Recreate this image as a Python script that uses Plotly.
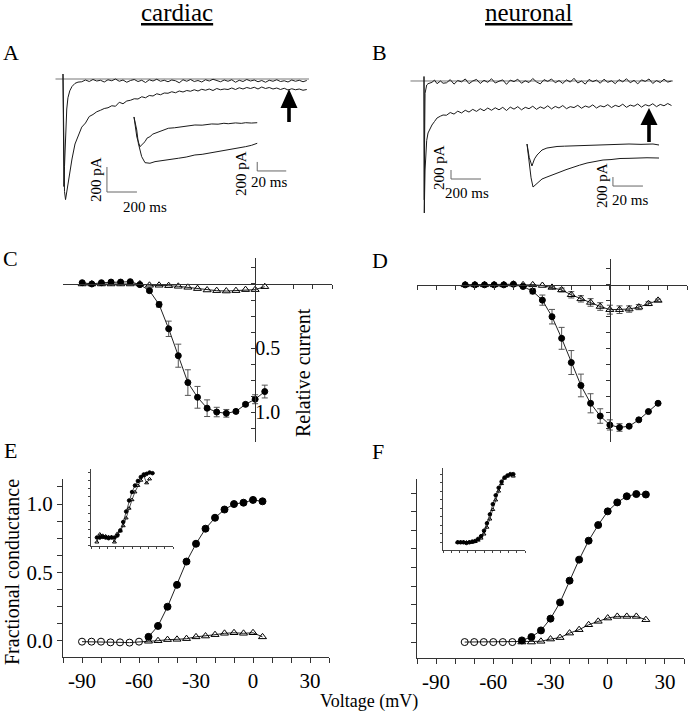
import plotly.graph_objects as go

W, H = 691, 719
FONT = "Liberation Serif, Times New Roman, serif"

# ---------------- data ----------------
# A: cardiac current traces (time in ms, current in pA)
a_t = [0, 1, 3, 6, 10, 17, 25, 33, 45, 60, 80, 100,
       125, 150, 175, 200, 225, 250, 275, 300, 325, 350, 375, 400, 425, 450, 475,
       500, 525, 550, 575, 600, 625, 650, 675, 700, 725, 750, 775, 800, 825, 850,
       875, 900, 925, 950, 975, 1000, 1025, 1050, 1075, 1100, 1125, 1150, 1175,
       1200, 1225, 1250, 1275, 1300, 1325, 1350, 1375, 1400, 1425, 1450, 1475,
       1500, 1525, 1550, 1575, 1600, 1625]
a_fast = [40, -250, -650, -860, -700, -430, -240, -150, -95, -60, -35, -25,
          -22, -8, -20, -4, -16, -10, -24, -6, -14, 0,
          -18, -8, -26, -12, -4, -20, -10, -28, -6, -16,
          -2, -18, -10, -22, -8, -14, -30, -6, -18, -4,
          -20, -12, -24, -6, -16, -2, -14, -22, -8, -18,
          -6, -26, -10, -20, -4, -16, -8, -22, -12, -26,
          -10, -18, -6, -20, -14, -24, -8, -18, -10, -22,
          -12]
a_slow = [40, -150, -500, -850, -900, -965, -905, -840, -740, -640, -520, -452,
          -385, -352, -300, -284, -262, -250, -236, -230, -214, -218,
          -186, -198, -176, -170, -158, -160, -142, -150, -132, -136,
          -118, -126, -112, -114, -102, -110, -96, -104, -92, -98,
          -86, -96, -82, -90, -80, -92, -76, -86, -80, -84,
          -72, -84, -70, -80, -68, -76, -66, -80, -64, -76,
          -68, -80, -72, -84, -74, -88, -78, -86, -80, -90,
          -84]
# A inset (expanded time scale)
a_in_fast_t = [0, 2, 4.1, 6, 7.6, 9, 11, 13, 14.5, 17, 19, 21.5, 23.7, 28, 33,
               37, 42, 47, 53.6, 58, 62, 65, 70, 74, 77, 81, 85]
a_in_fast = [0, -450, -660, -600, -548, -470, -437, -380, -362, -330, -304, -290,
             -251, -240, -215, -200, -178, -182, -155, -160, -140, -150, -132,
             -142, -127, -135, -127]
a_in_slow_t = [0, 1.9, 3, 5.3, 7.6, 11, 14.5, 19, 23.7, 28, 30.6, 36, 42, 47,
               53.6, 58, 62, 65, 70, 74, 77, 81, 85]
a_in_slow = [0, -289, -584, -881, -1015, -1028, -992, -975, -955, -940, -917,
             -890, -844, -830, -793, -780, -750, -733, -700, -690, -659, -630, -584]

# B: neuronal current traces
b_t = [0, 1, 2, 4, 7, 13, 18, 27, 40, 53, 70, 87, 110, 127,
       150, 175, 200, 225, 250, 275, 300, 325, 350, 375, 400, 425, 450, 475,
       500, 525, 550, 575, 600, 625, 650, 675, 700, 725, 750, 775, 800, 825,
       850, 875, 900, 925, 950, 975, 1000, 1025, 1050, 1075, 1100, 1125, 1150,
       1175, 1200, 1225, 1250, 1275, 1300, 1325, 1350, 1375, 1400, 1425, 1450,
       1475, 1500, 1525, 1550, 1575, 1600, 1625, 1650]
b_fast = [100, -1500, -2640, -1300, -273, -130, -89, -60, -38, -30, 20, -60, 0, -50,
          -40, 30, -70, 10, -20, 45, -60, 0, 35, -55,
          15, -30, 50, -45, -5, 25, -75, 20, -15, 40,
          -50, 5, -35, 55, -20, -65, 30, -10, 45, -40,
          10, -55, 25, -25, 60, -45, 0, -70, 35, -15,
          20, -50, 40, -30, 5, -60, 30, -20, 50, -40,
          15, -65, 25, -10, 45, -55, 10, -35, 40, -25,
          0]
b_slow = [100, -1800, -2930, -2500, -1976, -1465, -1320, -1154, -1050, -977, -900,
          -821, -780, -755,
          -760, -700, -735, -670, -710, -650, -690, -630, -675, -615,
          -660, -600, -650, -595, -640, -585, -655, -580, -625, -570,
          -640, -585, -615, -560, -630, -575, -610, -550, -620, -565,
          -600, -545, -615, -570, -590, -540, -605, -555, -585, -530,
          -600, -550, -575, -525, -590, -540, -570, -515, -585, -535,
          -560, -510, -580, -525, -555, -505, -570, -520, -550, -500,
          -545]
b_in_fast_t = [0, 1.5, 3.3, 5, 6.7, 10, 13.3, 17, 20, 25, 29, 35, 42, 51, 60, 68, 76, 84, 88]
b_in_fast = [0, -300, -488, -330, -244, -133, -89, -70, -55, -48, -44, -35, -30, -11,
             -15, 0, -8, 0, -22]
b_in_slow_t = [0, 1.3, 2.7, 4, 5.3, 6.7, 10, 13.3, 17, 22, 26, 30.7, 35, 40, 45,
               50.7, 56, 62, 68, 73.3, 80, 88]
b_in_slow = [0, -422, -750, -955, -920, -866, -777, -733, -680, -622, -570, -511,
             -470, -422, -390, -355, -345, -322, -318, -311, -305, -311]

# C: cardiac I-V (relative current)
c_v = [-90, -85, -80, -75, -70, -65, -60, -55, -50, -45, -40, -35, -30, -25, -20,
       -15, -10, -5, 0, 5]
c_filled = [-0.01, 0.0, -0.01, -0.015, -0.015, -0.018, 0.005, 0.052, 0.16, 0.35,
            0.56, 0.77, 0.885, 0.97, 1.0, 1.01, 0.995, 0.94, 0.90, 0.84]
c_filled_err = [0, 0, 0, 0, 0, 0, 0, 0.01, 0.02, 0.06, 0.09, 0.10, 0.085, 0.065,
                0.037, 0.03, 0.012, 0.012, 0.035, 0.05]
c_open = [0, 0, 0, 0, 0, 0, 0, 0.01, 0.01, 0.013, 0.018, 0.026, 0.036, 0.047,
          0.052, 0.055, 0.052, 0.044, 0.044, 0.021]

# D: neuronal I-V
d_v = [-75, -70, -65, -60, -55, -50, -45, -40, -35, -30, -25, -20, -15, -10, -5,
       0, 5, 10, 15, 20, 25]
d_filled = [0, 0, 0, 0, 0, -0.005, 0.013, 0.05, 0.12, 0.25, 0.42, 0.61, 0.79,
            0.93, 1.03, 1.10, 1.12, 1.11, 1.06, 0.995, 0.93]
d_filled_err = [0, 0, 0, 0, 0, 0, 0.01, 0.02, 0.04, 0.057, 0.086, 0.094, 0.089,
                0.075, 0.057, 0.04, 0.03, 0.01, 0, 0, 0]
d_open = [0, 0, 0, 0, 0, -0.005, 0, 0, 0.005, 0.02, 0.04, 0.078, 0.11, 0.138,
          0.17, 0.195, 0.195, 0.19, 0.175, 0.148, 0.122]
d_open_err = [0, 0, 0, 0, 0, 0, 0, 0, 0, 0.01, 0.015, 0.025, 0.025, 0.03, 0.03,
              0.035, 0.03, 0.025, 0.02, 0.015, 0.01]

# E: cardiac fractional conductance
e_v = [-90, -85, -80, -75, -70, -65, -60, -55, -50, -45, -40, -35, -30, -25, -20,
       -15, -10, -5, 0, 5]
e_open = [-0.005, -0.005, -0.005, -0.01, -0.01, -0.012, -0.005, -0.002, 0.002,
          0.01, 0.012, 0.017, 0.03, 0.036, 0.046, 0.056, 0.06, 0.056, 0.06, 0.03]
e_filled_v = [-55, -50, -45, -40, -35, -30, -25, -20, -15, -10, -5, 0, 5]
e_filled = [0.03, 0.11, 0.25, 0.41, 0.58, 0.71, 0.82, 0.90, 0.96, 1.00, 1.01, 1.03, 1.02]
e_in_filled = [0.0, 0.0, 0.01, 0.0, -0.01, 0.0, 0.0, 0.03, 0.11, 0.24, 0.40, 0.57,
               0.70, 0.80, 0.87, 0.93, 0.97, 0.98, 1.0, 0.99]
e_in_open_v = [-90, -85, -80, -75, -70, -65, -60, -55, -50, -45, -40, -35, -30,
               -25, -20, -15, -10, -5, 0]
e_in_open = [-0.07, 0.05, 0.03, 0.02, 0.01, 0.01, -0.07, 0.06, 0.10, 0.18, 0.30,
             0.45, 0.58, 0.70, 0.80, 0.88, 0.95, 0.84, 0.90]

# F: neuronal fractional conductance
f_v = [-75, -70, -65, -60, -55, -50, -45, -40, -35, -30, -25, -20, -15, -10, -5,
       0, 5, 10, 15, 20]
f_open = [0, 0, 0, 0, 0, 0, 0, 0, 0.005, 0.02, 0.03, 0.06, 0.083, 0.116, 0.139,
          0.161, 0.172, 0.172, 0.172, 0.15]
f_filled_v = [-45, -40, -35, -30, -25, -20, -15, -10, -5, 0, 5, 10, 15, 20]
f_filled = [0.011, 0.034, 0.078, 0.157, 0.266, 0.412, 0.553, 0.68, 0.785, 0.877,
            0.937, 0.978, 0.993, 0.99]
f_in_filled = [0, 0, 0, -0.01, 0, 0.01, 0.02, 0.05, 0.09, 0.17, 0.28, 0.41, 0.56,
               0.69, 0.80, 0.89, 0.95, 0.98, 1.0, 1.0]
f_in_open = [0, 0, 0, 0, 0, 0, 0.01, 0.03, 0.06, 0.12, 0.22, 0.34, 0.48, 0.62,
             0.75, 0.86, 0.94, 0.97, 0.99, 0.97]


# ---------------- helpers ----------------
def xdom(a, b):
    return [a / W, b / W]


def ydom(top, bot):
    return [1 - bot / H, 1 - top / H]


def zero_frac(r):
    return (0 - r[0]) / (r[1] - r[0])


fig = go.Figure()
TRACE = "#1a1a1a"
AX = "#333333"


def add_line(x, y, n, color=TRACE, width=1):
    sfx = "" if n == 1 else str(n)
    fig.add_trace(go.Scatter(x=x, y=y, xaxis="x" + sfx, yaxis="y" + sfx, mode="lines",
                             line=dict(color=color, width=width), hoverinfo="skip",
                             showlegend=False))


def add_points(x, y, n, symbol, size, err=None, width=1):
    sfx = "" if n == 1 else str(n)
    kw = {}
    if err is not None:
        kw["error_y"] = dict(type="data", array=err, color="#555555", thickness=1, width=3)
    fig.add_trace(go.Scatter(x=x, y=y, xaxis="x" + sfx, yaxis="y" + sfx,
                             mode="lines+markers",
                             line=dict(color="#222222", width=width),
                             marker=dict(symbol=symbol, size=size, color="black",
                                         line=dict(color="black", width=1)),
                             hoverinfo="skip", showlegend=False, **kw))


# ---------------- traces ----------------
# A
add_line([-50, 1640], [0, 0], 1, color="#777777")
add_line(a_t, a_slow, 1)
add_line(a_t, a_fast, 1)
add_line(a_in_slow_t, a_in_slow, 2)
add_line(a_in_fast_t, a_in_fast, 2)
# B
add_line([-90, 1660], [0, 0], 3, color="#777777")
add_line(b_t, b_slow, 3)
add_line(b_t, b_fast, 3)
add_line(b_in_slow_t, b_in_slow, 4)
add_line(b_in_fast_t, b_in_fast, 4)
# C
add_points(c_v, c_open, 5, "triangle-up-open", 7)
add_points(c_v, c_filled, 5, "circle", 6, err=c_filled_err)
# D
add_points(d_v, d_open, 6, "triangle-up-open", 7, err=d_open_err)
add_points(d_v, d_filled, 6, "circle", 6, err=d_filled_err)
# E
e_sym = ["circle-open" if v <= -60 else "triangle-up-open" for v in e_v]
add_points(e_v, e_open, 7, e_sym, 7)
add_points(e_filled_v, e_filled, 7, "circle", 7)
add_points(e_in_open_v, e_in_open, 8, "triangle-up-open", 3.5, width=0.8)
add_points(e_v, e_in_filled, 8, "circle", 3.5, width=0.8)
# F
f_sym = ["circle-open" if v <= -50 else "triangle-up-open" for v in f_v]
add_points(f_v, f_open, 9, f_sym, 7)
add_points(f_filled_v, f_filled, 9, "circle", 7)
add_points(f_v, f_in_open, 10, "triangle-up-open", 3.5, width=0.8)
add_points(f_v, f_in_filled, 10, "circle", 3.5, width=0.8)

# ---------------- axes ----------------
hidden = {
    1: (xdom(55, 310), ydom(70, 210), [-53.3, 1646.7], [-1048, 72]),
    2: (xdom(125, 300), ydom(110, 190), [-6.2, 114.5], [-1622, 155]),
    3: (xdom(410, 680), ydom(70, 220), [-93.3, 1706.7], [-3086, 244]),
    4: (xdom(520, 665), ydom(135, 200), [-4.67, 92], [-1243, 200]),
}
lay = {}
for n, (dx, dy, rx, ry) in hidden.items():
    sfx = "" if n == 1 else str(n)
    lay["xaxis" + sfx] = dict(domain=dx, range=rx, visible=False, anchor="y" + sfx)
    lay["yaxis" + sfx] = dict(domain=dy, range=ry, visible=False, anchor="x" + sfx)

iv_rx = [-100, 40]
iv_ry = [1.234, -0.203]
yt = [-0.125 + 0.125 * k for k in range(11)]
for n, dx, dy, labels in [(5, xdom(63, 332), ydom(258, 442), True),
                          (6, xdom(417, 687), ydom(259, 442), False)]:
    xpos = dx[0] + zero_frac(iv_rx) * (dx[1] - dx[0])
    ypos = dy[0] + zero_frac(iv_ry) * (dy[1] - dy[0])
    lay["xaxis%d" % n] = dict(domain=dx, range=iv_rx, anchor="free", position=ypos,
                              showline=True, linecolor=AX, linewidth=1, ticks="outside",
                              ticklen=4, tickcolor=AX, tick0=0, dtick=10,
                              showticklabels=False, showgrid=False, zeroline=False)
    lay["yaxis%d" % n] = dict(domain=dy, range=iv_ry, anchor="free", position=xpos,
                              showline=True, linecolor=AX, linewidth=1, ticks="outside",
                              ticklen=4, tickcolor=AX, tickmode="array", tickvals=yt,
                              ticktext=["0.5" if abs(v - 0.5) < 1e-9 else
                                        "1.0" if abs(v - 1.0) < 1e-9 else "" for v in yt],
                              showticklabels=labels, ticklabelposition="inside",
                              tickfont=dict(size=20, family=FONT, color="black"),
                              showgrid=False, zeroline=False)

main_x = dict(range=[-100, 40], showline=True, linecolor=AX, linewidth=1,
              ticks="outside", ticklen=5, tickcolor=AX, tickmode="array",
              tickvals=[-90, -60, -30, 0, 30], ticktext=["-90", "-60", "-30", "0", "30"],
              tickfont=dict(size=21, family=FONT, color="black"),
              minor=dict(tick0=0, dtick=10, ticks="outside", ticklen=5, tickcolor=AX),
              showgrid=False, zeroline=False)
main_y = dict(showline=True, linecolor=AX, linewidth=1, ticks="outside", ticklen=5,
              tickcolor=AX, tickmode="array", tickvals=[0, 0.5, 1.0],
              ticktext=["0.0", "0.5", "1.0"],
              tickfont=dict(size=21, family=FONT, color="black"),
              minor=dict(tick0=0, dtick=0.125, ticks="outside", ticklen=5, tickcolor=AX),
              showgrid=False, zeroline=False)
inset_x = dict(range=[-100, 40], showline=True, linecolor="#444444", linewidth=1,
               ticks="outside", ticklen=2, tickcolor="#444444", tick0=-100, dtick=14,
               showticklabels=False, showgrid=False, zeroline=False)
inset_y = dict(showline=True, linecolor="#444444", linewidth=1, ticks="outside",
               ticklen=2, tickcolor="#444444", tick0=0, dtick=0.125,
               showticklabels=False, showgrid=False, zeroline=False)

lay["xaxis7"] = dict(main_x, domain=xdom(63, 329), anchor="y7")
lay["yaxis7"] = dict(main_y, domain=ydom(479, 657), range=[-0.117, 1.183], anchor="x7")
lay["xaxis8"] = dict(inset_x, domain=xdom(91, 173), anchor="y8")
lay["yaxis8"] = dict(inset_y, domain=ydom(469, 546), range=[-0.13, 1.054], anchor="x8")
lay["xaxis9"] = dict(main_x, domain=xdom(417, 684), anchor="y9")
lay["yaxis9"] = dict(main_y, domain=ydom(479, 658), range=[-0.107, 1.094], anchor="x9",
                     showticklabels=False)
lay["xaxis10"] = dict(inset_x, domain=xdom(443, 525), anchor="y10")
lay["yaxis10"] = dict(inset_y, domain=ydom(468, 550), range=[-0.113, 1.09], anchor="x10")

# ---------------- scale bars (data units: ms, pA) ----------------
bars = [("x", "y", 293, -904, 200, 200),
        ("x2", "y2", 85, -1199, 20, 200),
        ("x3", "y3", 180, -2176, 200, 200),
        ("x4", "y4", 57.3, -933, 20, 200)]
shapes = []
for xr, yr, t0, i0, dt, di in bars:
    shapes.append(dict(type="path", xref=xr, yref=yr,
                       path="M %g,%g L %g,%g L %g,%g" % (t0, i0 + di, t0, i0, t0 + dt, i0),
                       line=dict(color="#666666", width=1)))


def arrow(x, tip, base, hw=8.5, hh=19, sw=1.8):
    pts = [(x, tip), (x + hw, tip + hh), (x + sw, tip + hh), (x + sw, base),
           (x - sw, base), (x - sw, tip + hh), (x - hw, tip + hh)]
    path = "M " + " L ".join("%.5f,%.5f" % (p / W, 1 - q / H) for p, q in pts) + " Z"
    return dict(type="path", xref="paper", yref="paper", path=path,
                fillcolor="black", line=dict(width=0))


shapes.append(arrow(289, 89, 122))
shapes.append(arrow(649, 108, 142, hh=17))

# ---------------- text ----------------
ann = []


def text(x, y, s, size, angle=0):
    ann.append(dict(x=x / W, y=1 - y / H, xref="paper", yref="paper", text=s,
                    showarrow=False, textangle=angle, xanchor="center", yanchor="middle",
                    font=dict(family=FONT, size=size, color="black")))


text(177, 12, "<u>cardiac</u>", 25)
text(529, 12, "<u>neuronal</u>", 25)
for lab, x, y in [("A", 11, 53), ("B", 379, 53), ("C", 10, 258), ("D", 380, 260),
                  ("E", 10, 450), ("F", 378, 452)]:
    text(x, y, lab, 22)
text(96, 180, "200 pA", 15, -90)
text(145, 207, "200 ms", 15)
text(241, 173, "200 pA", 15, -90)
text(269, 182, "20 ms", 15)
text(439, 168, "200 pA", 15, -90)
text(467, 193, "200 ms", 15)
text(602, 186, "200 pA", 15, -90)
text(630, 200, "20 ms", 15)
text(303, 373, "Relative current", 20, -90)
text(12, 572, "Fractional conductance", 20, -90)
text(369, 701, "Voltage (mV)", 18)

fig.update_layout(width=W, height=H, autosize=False,
                  margin=dict(l=0, r=0, t=0, b=0),
                  paper_bgcolor="white", plot_bgcolor="rgba(0,0,0,0)",
                  font=dict(family=FONT, color="black"),
                  hovermode=False, showlegend=False,
                  shapes=shapes, annotations=ann, **lay)
fig.write_html("out.html", config={"displayModeBar": False},
               post_script="document.body.style.margin='0';")
